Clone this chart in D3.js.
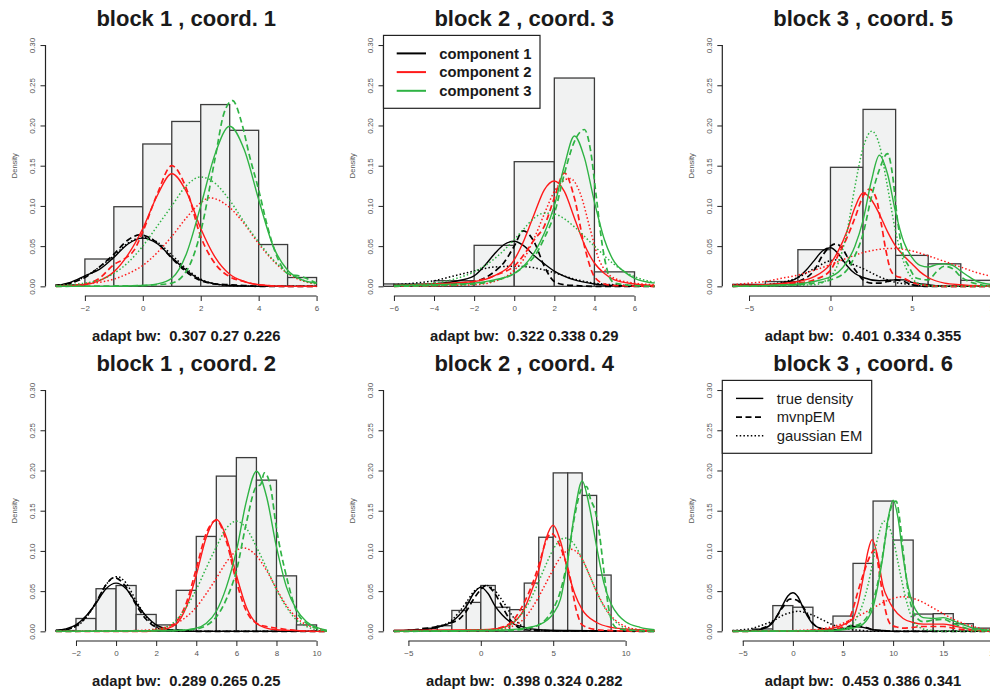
<!DOCTYPE html>
<html>
<head>
<meta charset="utf-8">
<script src="https://cdn.jsdelivr.net/npm/d3@7"></script>
<style>
  body { margin: 0; background: #fff; }
  text { font-family: "Liberation Sans", Arial, sans-serif; }
</style>
</head>
<body>
<div id="chart"></div>
<script>
// histogram breaks + densities, one pair per panel
var p1Breaks = [-3,-2,-1,0,1,2,3,4,5,6];
var p1Density = [0.002,0.034,0.099,0.177,0.205,0.226,0.194,0.052,0.011];
var p2Breaks = [-8,-6,-4,-2,0,2,4,6];
var p2Density = [0.003,0.003,0.007,0.051,0.155,0.259,0.018];
var p3Breaks = [-6,-4,-2,0,2,4,6,8,10];
var p3Density = [0.0025,0.006,0.0456,0.148,0.220,0.0385,0.028,0.0075];
var p4Breaks = [-3,-2,-1,0,1,2,3,4,5,6,7,8,9,10];
var p4Density = [0.001,0.016,0.053,0.057,0.021,0.008,0.051,0.118,0.193,0.216,0.188,0.069,0.008];
var p5Breaks = [-6,-5,-4,-3,-2,-1,0,1,2,3,4,5,6,7,8,9];
var p5Density = [0.001,0.002,0.004,0.007,0.026,0.036,0.057,0.030,0.027,0.060,0.117,0.197,0.197,0.169,0.070];
var p6Breaks = [-6,-4,-2,0,2,4,6,8,10,12,14,16,18,20];
var p6Density = [0.001,0.003,0.032,0.030,0.001,0.019,0.0845,0.162,0.1135,0.0215,0.022,0.0095,0.004];

// density curves [x, density]: True = true density, Mvnp = mvnpEM, Gauss = gaussian EM
var p1TrueK1 = [[-3,0.001],[-2.5,0.005],[-2,0.013],[-1.5,0.021],[-1,0.036],[-0.5,0.053],[0,0.060],[0.5,0.053],[1,0.036],[1.5,0.020],[2,0.008],[2.5,0.003],[3,0.001],[4,0],[6,0]];
var p1MvnpK1 = [[-3,0.001],[-2.5,0.004],[-2,0.011],[-1.5,0.024],[-1,0.040],[-0.5,0.058],[-0.1,0.064],[0.5,0.054],[1,0.035],[1.5,0.018],[2,0.007],[2.5,0.003],[3,0.002],[3.5,0.001],[4,0],[6,0]];
var p1GaussK1 = [[-3,0.001],[-2.5,0.004],[-2,0.012],[-1.5,0.024],[-1,0.038],[-0.5,0.054],[0.05,0.061],[0.5,0.055],[1,0.039],[1.5,0.022],[2,0.009],[2.5,0.003],[3,0.001],[4,0],[6,0]];
var p1TrueK2 = [[-3,0],[-2,0.002],[-1.5,0.007],[-1,0.018],[-0.5,0.040],[0,0.072],[0.5,0.113],[1,0.140],[1.5,0.118],[2,0.072],[2.5,0.036],[3,0.015],[3.5,0.006],[4,0.002],[5,0],[6,0]];
var p1MvnpK2 = [[-3,0],[-2,0.003],[-1.5,0.010],[-1,0.027],[-0.6,0.035],[-0.3,0.045],[0,0.068],[0.5,0.115],[1,0.150],[1.5,0.122],[2,0.062],[2.5,0.028],[3,0.012],[3.5,0.006],[4,0.002],[5,0],[6,0]];
var p1GaussK2 = [[-3,0.001],[-2,0.003],[-1,0.009],[-0.5,0.016],[0,0.026],[0.5,0.042],[1,0.062],[1.5,0.085],[2,0.104],[2.3,0.110],[3,0.098],[3.5,0.078],[4,0.053],[4.5,0.032],[5,0.016],[5.5,0.007],[6,0.003]];
var p1TrueK3 = [[-3,0],[-1,0],[0,0.001],[0.5,0.003],[1,0.010],[1.5,0.040],[2,0.100],[2.5,0.165],[3,0.199],[3.5,0.170],[4,0.108],[4.5,0.050],[5,0.020],[5.5,0.008],[6,0.004]];
var p1MvnpK3 = [[-3,0],[0,0.001],[0.5,0.002],[1,0.004],[1.3,0.010],[1.6,0.025],[2,0.068],[2.5,0.160],[2.8,0.215],[3.1,0.231],[3.4,0.205],[3.7,0.160],[4,0.120],[4.3,0.075],[4.6,0.040],[5,0.016],[5.5,0.012],[6,0.004]];
var p1GaussK3 = [[-3,0.001],[-2,0.004],[-1,0.016],[-0.5,0.030],[0,0.050],[0.5,0.075],[1,0.100],[1.5,0.125],[2,0.136],[2.5,0.128],[3,0.107],[3.5,0.080],[4,0.055],[4.5,0.033],[5,0.017],[5.5,0.008],[6,0.003]];

var p2TrueK1 = [[-6,0.001],[-4,0.003],[-3,0.006],[-2,0.013],[-1.5,0.025],[-1,0.040],[-0.5,0.052],[0,0.056],[0.5,0.050],[1,0.038],[1.5,0.028],[2,0.019],[3,0.008],[4,0.003],[5,0.001],[7,0]];
var p2MvnpK1 = [[-6,0.001],[-4,0.002],[-2,0.006],[-1,0.018],[-0.5,0.030],[0,0.050],[0.45,0.069],[1,0.055],[1.5,0.025],[2,0.006],[2.5,0.002],[3,0.001],[4,0],[7,0]];
var p2GaussK1 = [[-6,0.002],[-5,0.004],[-4,0.007],[-3,0.013],[-2,0.019],[-1,0.024],[0,0.025],[1,0.023],[2,0.017],[3,0.009],[4,0.004],[5,0.002],[6,0.001],[7,0]];
var p2TrueK2 = [[-6,0.001],[-4,0.003],[-2,0.006],[-1,0.013],[0,0.033],[0.5,0.058],[1,0.090],[1.5,0.120],[2,0.131],[2.5,0.118],[3,0.085],[3.5,0.052],[4,0.029],[4.5,0.016],[5,0.008],[6,0.003],[7,0.001]];
var p2MvnpK2 = [[-6,0],[-3,0.002],[-2,0.006],[-1,0.013],[-0.5,0.018],[0,0.025],[0.5,0.040],[1,0.058],[1.5,0.075],[2,0.110],[2.5,0.141],[3,0.110],[3.5,0.050],[4,0.012],[4.5,0.003],[5,0.001],[7,0]];
var p2GaussK2 = [[-6,0],[-2,0.002],[-1,0.006],[0,0.020],[0.5,0.035],[1,0.060],[1.5,0.090],[2,0.118],[2.5,0.132],[2.8,0.134],[3.3,0.115],[3.8,0.070],[4.2,0.035],[4.6,0.018],[5,0.010],[6,0.004],[7,0.002]];
var p2TrueK3 = [[-6,0.001],[-4,0.002],[-2,0.004],[-1,0.008],[0,0.016],[0.5,0.026],[1,0.042],[1.5,0.066],[2,0.100],[2.5,0.150],[3,0.187],[3.5,0.160],[4,0.105],[4.5,0.058],[5,0.030],[5.5,0.018],[6,0.010],[7,0.004]];
var p2MvnpK3 = [[-6,0],[-2,0.003],[-1,0.007],[0,0.016],[0.5,0.025],[1,0.037],[1.5,0.060],[2,0.090],[2.5,0.140],[3,0.180],[3.5,0.195],[3.8,0.170],[4.1,0.110],[4.4,0.050],[4.7,0.015],[5,0.004],[6,0.001],[7,0]];
var p2GaussK3 = [[-6,0.001],[-5,0.002],[-4,0.004],[-3,0.009],[-2,0.018],[-1,0.034],[0,0.058],[0.5,0.072],[1,0.085],[1.5,0.091],[2,0.090],[2.5,0.084],[3,0.074],[4,0.050],[5,0.027],[6,0.012],[7,0.005]];

var p3TrueK1 = [[-6,0.001],[-4,0.002],[-3,0.004],[-2,0.011],[-1.5,0.020],[-1,0.032],[-0.5,0.044],[0,0.048],[0.5,0.040],[1,0.026],[1.5,0.016],[2,0.011],[3,0.007],[4,0.008],[4.5,0.008],[5,0.005],[6,0.002],[7,0],[11,0]];
var p3MvnpK1 = [[-6,0],[-3,0.002],[-2,0.006],[-1,0.020],[-0.5,0.038],[0,0.050],[0.35,0.053],[0.8,0.045],[1.2,0.030],[1.6,0.018],[2,0.008],[2.5,0.004],[3,0.004],[3.5,0.006],[4,0.008],[4.5,0.006],[5,0.002],[6,0],[11,0]];
var p3GaussK1 = [[-6,0],[-4,0.002],[-3,0.005],[-2,0.011],[-1,0.022],[0,0.032],[0.5,0.033],[1,0.030],[2,0.022],[3,0.012],[4,0.005],[5,0.002],[6,0],[11,0]];
var p3TrueK2 = [[-6,0.001],[-4,0.002],[-2,0.006],[-1,0.012],[0,0.028],[0.5,0.045],[1,0.068],[1.5,0.098],[2,0.116],[2.5,0.108],[3,0.090],[3.5,0.068],[4,0.050],[4.5,0.038],[5,0.028],[5.5,0.018],[6,0.011],[7,0.004],[8,0.002],[10,0],[11,0]];
var p3MvnpK2 = [[-6,0],[-3,0.002],[-2,0.004],[-1,0.008],[0,0.020],[0.5,0.040],[1,0.060],[1.5,0.085],[2,0.112],[2.4,0.121],[2.8,0.110],[3.1,0.080],[3.4,0.045],[3.7,0.020],[4,0.013],[4.5,0.010],[5,0.005],[6,0.001],[7,0],[11,0]];
var p3GaussK2 = [[-6,0.002],[-5,0.004],[-4,0.006],[-3,0.010],[-2,0.014],[-1,0.020],[0,0.027],[1,0.035],[2,0.042],[3,0.046],[3.5,0.047],[4,0.047],[5,0.044],[6,0.038],[7,0.031],[8,0.024],[9,0.017],[10,0.012],[11,0.008]];
var p3TrueK3 = [[-6,0],[-4,0.001],[-2,0.003],[-1,0.006],[0,0.012],[0.5,0.018],[1,0.030],[1.5,0.050],[2,0.082],[2.5,0.130],[3,0.163],[3.5,0.140],[4,0.092],[4.5,0.055],[5,0.036],[5.5,0.026],[6,0.024],[6.5,0.027],[7,0.028],[7.5,0.026],[8,0.019],[8.5,0.012],[9,0.006],[10,0.002],[11,0]];
var p3MvnpK3 = [[-6,0],[-2,0.002],[-1,0.004],[0,0.008],[1,0.020],[1.5,0.038],[2,0.065],[2.5,0.110],[3,0.145],[3.5,0.165],[3.8,0.140],[4.1,0.085],[4.4,0.045],[4.8,0.025],[5.3,0.010],[6,0.008],[6.5,0.018],[7,0.025],[7.5,0.022],[8,0.012],[8.5,0.006],[9,0.003],[10,0],[11,0]];
var p3GaussK3 = [[-6,0],[-1,0.002],[0,0.012],[0.5,0.030],[1,0.066],[1.5,0.124],[2,0.172],[2.55,0.193],[3,0.176],[3.5,0.124],[4,0.068],[4.5,0.030],[5,0.010],[5.5,0.003],[6,0.001],[7,0],[11,0]];

var p4TrueK1 = [[-3,0.001],[-2.5,0.003],[-2,0.008],[-1.5,0.019],[-1,0.035],[-0.5,0.053],[0,0.060],[0.5,0.053],[1,0.035],[1.5,0.019],[2,0.008],[2.5,0.003],[3,0.001],[4,0],[10.6,0]];
var p4MvnpK1 = [[-3,0.001],[-2.5,0.002],[-2,0.007],[-1.5,0.018],[-1,0.036],[-0.5,0.058],[-0.1,0.067],[0.5,0.055],[1,0.033],[1.5,0.015],[2,0.005],[2.5,0.002],[3,0.002],[3.5,0.001],[4,0],[10.6,0]];
var p4GaussK1 = [[-3,0.001],[-2,0.006],[-1.5,0.017],[-1,0.035],[-0.5,0.058],[0.05,0.068],[0.5,0.060],[1,0.038],[1.5,0.018],[2,0.006],[2.5,0.002],[3,0],[10.6,0]];
var p4TrueK2 = [[-3,0],[1.5,0],[2,0.001],[2.5,0.003],[3,0.009],[3.5,0.030],[4,0.070],[4.5,0.117],[5,0.139],[5.5,0.117],[6,0.070],[6.5,0.030],[7,0.010],[7.5,0.004],[8,0.002],[9,0.001],[10,0],[10.6,0]];
var p4MvnpK2 = [[-3,0],[1.5,0],[2,0.002],[2.5,0.005],[3,0.012],[3.5,0.035],[4,0.078],[4.5,0.122],[5,0.138],[5.5,0.112],[6,0.062],[6.5,0.025],[7,0.010],[7.5,0.006],[8,0.004],[9,0.001],[10,0],[10.6,0]];
var p4GaussK2 = [[-3,0],[1,0.001],[2,0.003],[3,0.010],[3.5,0.018],[4,0.030],[4.5,0.047],[5,0.066],[5.5,0.086],[6,0.100],[6.3,0.104],[7,0.094],[7.5,0.076],[8,0.053],[8.5,0.032],[9,0.017],[9.5,0.008],[10,0.004],[10.6,0.001]];
var p4TrueK3 = [[-3,0],[3,0.001],[4,0.004],[4.5,0.010],[5,0.025],[5.5,0.055],[6,0.100],[6.5,0.162],[7,0.199],[7.5,0.168],[8,0.105],[8.5,0.055],[9,0.027],[9.5,0.012],[10,0.005],[10.6,0.001]];
var p4MvnpK3 = [[-3,0],[3,0.001],[4,0.003],[5,0.018],[5.5,0.040],[6,0.075],[6.5,0.135],[7,0.180],[7.2,0.182],[7.4,0.197],[7.7,0.180],[8,0.128],[8.5,0.068],[9,0.025],[9.5,0.010],[10,0.004],[10.6,0]];
var p4GaussK3 = [[-3,0],[1,0],[2,0.002],[2.5,0.005],[3,0.014],[3.5,0.030],[4,0.052],[4.5,0.079],[5,0.105],[5.5,0.128],[6,0.137],[6.5,0.128],[7,0.105],[7.5,0.079],[8,0.052],[8.5,0.030],[9,0.014],[9.5,0.006],[10,0.002],[10.6,0]];

var p5TrueK1 = [[-6,0.001],[-4,0.002],[-3,0.005],[-2,0.012],[-1.5,0.020],[-1,0.031],[-0.5,0.047],[0,0.055],[0.5,0.047],[1,0.031],[1.5,0.020],[2,0.012],[3,0.005],[4,0.002],[6,0.001],[12,0]];
var p5MvnpK1 = [[-6,0],[-4,0.003],[-3,0.006],[-2,0.011],[-1.5,0.015],[-1,0.025],[-0.5,0.040],[0,0.052],[0.35,0.057],[1,0.046],[1.5,0.030],[2,0.015],[2.5,0.006],[3,0.002],[4,0.001],[12,0]];
var p5GaussK1 = [[-6,0],[-4,0.002],[-3,0.005],[-2,0.014],[-1.5,0.024],[-1,0.036],[-0.5,0.049],[0,0.055],[0.4,0.057],[1,0.050],[1.5,0.038],[2,0.024],[2.5,0.012],[3,0.005],[4,0.001],[12,0]];
var p5TrueK2 = [[-6,0.001],[0,0.002],[1,0.003],[2,0.008],[3,0.028],[3.5,0.050],[4,0.076],[4.5,0.115],[5,0.132],[5.5,0.112],[6,0.076],[6.5,0.046],[7,0.027],[8,0.011],[9,0.005],[10,0.003],[12,0.001]];
var p5MvnpK2 = [[-6,0],[0,0.001],[1,0.003],[2,0.010],[2.5,0.020],[3,0.036],[3.5,0.056],[4,0.082],[4.5,0.112],[4.85,0.122],[5.3,0.113],[5.7,0.095],[6.1,0.072],[6.6,0.026],[7,0.008],[8,0.002],[9,0.001],[12,0]];
var p5GaussK2 = [[-6,0],[1,0.001],[2,0.005],[3,0.016],[3.5,0.028],[4,0.043],[4.5,0.060],[5,0.077],[5.5,0.092],[6.2,0.102],[7,0.090],[7.5,0.070],[8,0.049],[8.5,0.032],[9,0.019],[9.5,0.011],[10,0.006],[11,0.002],[12,0]];
var p5TrueK3 = [[-6,0],[0,0.001],[2,0.002],[3,0.004],[4,0.008],[5,0.022],[5.5,0.040],[6,0.088],[6.5,0.150],[7,0.187],[7.5,0.155],[8,0.105],[8.5,0.060],[9,0.034],[9.5,0.020],[10,0.012],[11,0.005],[12,0.002]];
var p5MvnpK3 = [[-6,0],[2,0.001],[3,0.003],[4,0.008],[4.5,0.015],[5,0.028],[5.5,0.050],[6,0.090],[6.5,0.145],[7,0.178],[7.3,0.180],[7.6,0.163],[7.9,0.150],[8.2,0.120],[8.5,0.075],[8.8,0.032],[9.1,0.010],[9.5,0.003],[12,0]];
var p5GaussK3 = [[-6,0],[1,0.002],[2,0.008],[3,0.026],[3.5,0.042],[4,0.062],[4.5,0.083],[5,0.102],[5.8,0.116],[6.5,0.107],[7,0.090],[7.5,0.070],[8,0.049],[8.5,0.031],[9,0.018],[9.5,0.009],[10,0.004],[11,0.001],[12,0]];

var p6TrueK1 = [[-6,0],[-4,0.001],[-3,0.003],[-2,0.011],[-1.5,0.021],[-1,0.033],[-0.5,0.044],[0,0.048],[0.5,0.043],[1,0.030],[1.5,0.018],[2,0.009],[3,0.003],[4,0.002],[5,0.003],[6,0.006],[7,0.005],[8,0.002],[9,0.001],[10,0],[21,0]];
var p6MvnpK1 = [[-6,0],[-4,0.001],[-3,0.004],[-2,0.012],[-1,0.030],[-0.3,0.040],[0,0.040],[0.5,0.038],[1,0.031],[1.5,0.020],[2,0.010],[3,0.003],[4,0.002],[5,0.004],[6,0.007],[7,0.006],[8,0.002],[9,0.001],[10,0],[21,0]];
var p6GaussK1 = [[-6,0.001],[-5,0.002],[-4,0.004],[-3,0.008],[-2,0.013],[-1,0.020],[0,0.024],[0.5,0.025],[1,0.024],[2,0.020],[3,0.014],[4,0.008],[5,0.004],[6,0.002],[7,0.001],[8,0],[21,0]];
var p6TrueK2 = [[-6,0],[2,0.001],[3,0.002],[4,0.004],[5,0.008],[6,0.016],[6.5,0.035],[7,0.066],[7.5,0.100],[7.9,0.114],[8.5,0.090],[9,0.056],[9.5,0.040],[10,0.029],[11,0.016],[12,0.011],[13,0.009],[14,0.009],[15,0.009],[16,0.007],[17,0.004],[18,0.002],[20,0],[21,0]];
var p6MvnpK2 = [[-6,0],[3,0.001],[4,0.002],[5,0.006],[5.5,0.012],[6,0.028],[6.5,0.050],[7,0.070],[7.5,0.088],[8,0.100],[8.2,0.102],[8.6,0.075],[9,0.042],[9.4,0.018],[9.8,0.008],[10.5,0.005],[11,0.004],[12,0.005],[13,0.006],[14,0.006],[15,0.006],[16,0.004],[17,0.002],[18,0.001],[21,0]];
var p6GaussK2 = [[-6,0],[0,0.001],[2,0.002],[4,0.006],[5,0.010],[6,0.016],[7,0.022],[8,0.029],[9,0.036],[10,0.041],[11,0.043],[12,0.041],[13,0.036],[14,0.029],[15,0.022],[16,0.015],[17,0.010],[18,0.006],[19,0.003],[20,0.002],[21,0.001]];
var p6TrueK3 = [[-6,0],[4,0.001],[5,0.002],[6,0.004],[7,0.009],[7.5,0.016],[8,0.030],[8.5,0.058],[9,0.095],[9.5,0.140],[10,0.163],[10.5,0.140],[11,0.092],[11.5,0.055],[12,0.033],[12.5,0.022],[13,0.017],[14,0.016],[15,0.017],[16,0.013],[17,0.008],[18,0.004],[19,0.002],[20,0.001],[21,0]];
var p6MvnpK3 = [[-6,0],[4,0.001],[5,0.003],[6,0.006],[7,0.012],[7.5,0.020],[8,0.037],[8.5,0.062],[9,0.098],[9.5,0.138],[10,0.160],[10.3,0.162],[10.7,0.135],[11,0.100],[11.5,0.050],[12,0.024],[12.5,0.015],[13,0.012],[14,0.014],[15,0.015],[16,0.010],[17,0.005],[18,0.002],[19,0.001],[21,0]];
var p6GaussK3 = [[-6,0],[4,0.001],[5,0.003],[6,0.010],[6.5,0.020],[7,0.035],[7.5,0.058],[8,0.088],[8.5,0.118],[9.1,0.137],[10,0.115],[10.5,0.085],[11,0.055],[11.5,0.030],[12,0.013],[12.5,0.006],[13,0.003],[14,0.001],[15,0],[21,0]];

var titles = ["block 1 , coord. 1", "block 2 , coord. 3", "block 3 , coord. 5",
              "block 1 , coord. 2", "block 2 , coord. 4", "block 3 , coord. 6"];
var subtitles = ["adapt bw:  0.307 0.27 0.226", "adapt bw:  0.322 0.338 0.29", "adapt bw:  0.401 0.334 0.355",
                 "adapt bw:  0.289 0.265 0.25", "adapt bw:  0.398 0.324 0.282", "adapt bw:  0.453 0.386 0.341"];
var xLimits = [[-3,6],[-6,7],[-6,10],[-3,10],[-6,12],[-6,20]];
var xTicks = [[-2,0,2,4,6],[-6,-4,-2,0,2,4,6],[-5,0,5,10],[-2,0,2,4,6,8,10],[-5,0,5,10],[-5,0,5,10,15,20]];
var yTicks = [0,0.05,0.10,0.15,0.20,0.25,0.30];
var componentLabels = ["component 1","component 2","component 3"];
var methodLabels = ["true density","mvnpEM","gaussian EM"];

var compColors = ["#000000","#ff1a1a","#2fb344"];
var methodDash = [null, "6,3.5", "1.5,2.2"];
var methodWidth = [1.4, 1.7, 1.5];

var svgWidth = 990, svgHeight = 691;
var colLeft = [45.5, 383.5, 722.3];
var rowTop = [35.4, 380.4];
var plotW = 281.5, plotH = 260.6;

var panels = [
  {breaks: p1Breaks, dens: p1Density, curves: [[p1TrueK1,p1MvnpK1,p1GaussK1],[p1TrueK2,p1MvnpK2,p1GaussK2],[p1TrueK3,p1MvnpK3,p1GaussK3]]},
  {breaks: p2Breaks, dens: p2Density, curves: [[p2TrueK1,p2MvnpK1,p2GaussK1],[p2TrueK2,p2MvnpK2,p2GaussK2],[p2TrueK3,p2MvnpK3,p2GaussK3]]},
  {breaks: p3Breaks, dens: p3Density, curves: [[p3TrueK1,p3MvnpK1,p3GaussK1],[p3TrueK2,p3MvnpK2,p3GaussK2],[p3TrueK3,p3MvnpK3,p3GaussK3]]},
  {breaks: p4Breaks, dens: p4Density, curves: [[p4TrueK1,p4MvnpK1,p4GaussK1],[p4TrueK2,p4MvnpK2,p4GaussK2],[p4TrueK3,p4MvnpK3,p4GaussK3]]},
  {breaks: p5Breaks, dens: p5Density, curves: [[p5TrueK1,p5MvnpK1,p5GaussK1],[p5TrueK2,p5MvnpK2,p5GaussK2],[p5TrueK3,p5MvnpK3,p5GaussK3]]},
  {breaks: p6Breaks, dens: p6Density, curves: [[p6TrueK1,p6MvnpK1,p6GaussK1],[p6TrueK2,p6MvnpK2,p6GaussK2],[p6TrueK3,p6MvnpK3,p6GaussK3]]}
];

var svg = d3.select("#chart").append("svg")
            .attr("width", svgWidth)
            .attr("height", svgHeight);

// y scale shared by every panel (R style 4% padding)
var yScale = d3.scaleLinear().domain([-0.012, 0.312]).range([plotH, 0]);

panels.forEach(function(p, i) {
    var col = i % 3, row = Math.floor(i / 3);
    var lim = xLimits[i];
    var pad = (lim[1] - lim[0]) * 0.04;
    var xScale = d3.scaleLinear().domain([lim[0] - pad, lim[1] + pad]).range([0, plotW]);

    var g = svg.append("g")
               .attr("transform", `translate(${colLeft[col]}, ${rowTop[row]})`);

    g.append("clipPath").attr("id", "clip" + i)
     .append("rect").attr("width", plotW).attr("height", plotH);

    var plot = g.append("g").attr("clip-path", `url(#clip${i})`);

    var bins = p.dens.map(function(d, j) { return {x0: p.breaks[j], x1: p.breaks[j + 1], d: d}; });
    plot.selectAll("rect.bar").data(bins).enter()
        .append("rect")
        .attr("class", "bar")
        .attr("x", d => xScale(d.x0))
        .attr("width", d => xScale(d.x1) - xScale(d.x0))
        .attr("y", d => yScale(d.d))
        .attr("height", d => yScale(0) - yScale(d.d))
        .attr("fill", "#f1f2f2")
        .attr("stroke", "#3c3c3c")
        .attr("stroke-width", 1.3);

    var line = d3.line()
                 .x(d => xScale(d[0]))
                 .y(d => yScale(d[1]))
                 .curve(d3.curveMonotoneX);

    p.curves.forEach(function(comp, k) {
        comp.forEach(function(pts, m) {
            plot.append("path")
                .attr("d", line(pts))
                .attr("fill", "none")
                .attr("stroke", compColors[k])
                .attr("stroke-width", methodWidth[m])
                .attr("stroke-dasharray", methodDash[m]);
        });
    });

    // x axis: line runs from first to last tick like R
    var xt = xTicks[i];
    var xAxis = g.append("g")
                 .attr("transform", `translate(0, ${plotH})`)
                 .call(d3.axisBottom(xScale).tickValues(xt).tickSize(5).tickPadding(4.5));
    xAxis.select(".domain").remove();
    xAxis.append("line")
         .attr("x1", xScale(xt[0])).attr("x2", xScale(xt[xt.length - 1]))
         .attr("stroke", "#222").attr("stroke-width", 1.2);
    xAxis.selectAll("line").attr("stroke", "#222");
    xAxis.selectAll("text").attr("font-size", 8).attr("fill", "#555")
         .attr("font-family", "'Liberation Sans', Arial, sans-serif");

    var yAxis = g.append("g")
                 .call(d3.axisLeft(yScale).tickValues(yTicks).tickSize(5).tickFormat(d3.format(".2f")));
    yAxis.select(".domain").remove();
    yAxis.append("line")
         .attr("y1", yScale(0)).attr("y2", yScale(0.3))
         .attr("stroke", "#222").attr("stroke-width", 1.2);
    yAxis.selectAll("line").attr("stroke", "#222");
    yAxis.selectAll("text")
         .attr("transform", "rotate(-90)")
         .attr("text-anchor", "middle")
         .attr("x", 0).attr("y", -10.5).attr("dy", 0)
         .attr("font-size", 8).attr("fill", "#555")
         .attr("font-family", "'Liberation Sans', Arial, sans-serif");

    g.append("text")
     .attr("transform", `translate(-28.5, ${plotH / 2}) rotate(-90)`)
     .attr("text-anchor", "middle")
     .attr("font-size", 7.5)
     .attr("fill", "#555")
     .text("Density");

    g.append("text")
     .attr("x", plotW / 2).attr("y", -9.4)
     .attr("text-anchor", "middle")
     .attr("font-size", 22).attr("font-weight", "bold")
     .attr("fill", "#1a1a1a")
     .text(titles[i]);

    g.append("text")
     .attr("x", plotW / 2).attr("y", 305.5)
     .attr("text-anchor", "middle")
     .attr("font-size", 14.8).attr("font-weight", "bold")
     .attr("fill", "#1a1a1a")
     .style("white-space", "pre")
     .text(subtitles[i]);

    // legends: components in panel 2, methods in panel 6
    if (i === 1 || i === 5) {
        var isComp = i === 1;
        var lg = g.append("g");
        lg.append("rect")
          .attr("x", 0).attr("y", 0)
          .attr("width", isComp ? 156.5 : 149.4).attr("height", 72.9)
          .attr("fill", "#fff").attr("stroke", "#222").attr("stroke-width", 1.2);
        var labels = isComp ? componentLabels : methodLabels;
        labels.forEach(function(lab, k) {
            var ly = 18 + k * 18.7;
            lg.append("line")
              .attr("x1", isComp ? 13.2 : 13.7).attr("x2", isComp ? 42.5 : 41)
              .attr("y1", ly).attr("y2", ly)
              .attr("stroke", isComp ? compColors[k] : "#000")
              .attr("stroke-width", isComp ? 2 : methodWidth[k])
              .attr("stroke-dasharray", isComp ? null : methodDash[k]);
            lg.append("text")
              .attr("x", isComp ? 55.8 : 54.4).attr("y", ly)
              .attr("dy", "0.35em")
              .attr("font-size", 14.8)
              .attr("font-weight", isComp ? "bold" : "normal")
              .attr("fill", "#1a1a1a")
              .text(lab);
        });
    }
});
</script>
</body>
</html>
